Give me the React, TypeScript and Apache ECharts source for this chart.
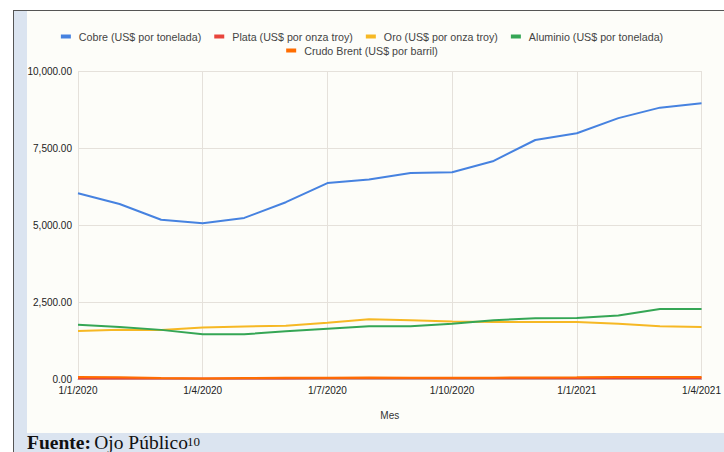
import React, { useEffect, useRef } from "react";
import * as echarts from "echarts";

// Monthly metal and oil prices, Jan 2020 – Apr 2021
const months = [
  "1/1/2020", "1/2/2020", "1/3/2020", "1/4/2020", "1/5/2020", "1/6/2020",
  "1/7/2020", "1/8/2020", "1/9/2020", "1/10/2020", "1/11/2020", "1/12/2020",
  "1/1/2021", "1/2/2021", "1/3/2021", "1/4/2021",
];

const cobre = [6030, 5680, 5170, 5060, 5230, 5740, 6360, 6480, 6690, 6710, 7080, 7760, 7980, 8470, 8810, 8950];
const plata = [18.0, 17.9, 14.9, 15.0, 16.2, 17.7, 20.6, 26.9, 26.2, 24.3, 24.2, 24.7, 25.9, 27.3, 25.6, 25.0];
const oro = [1560, 1595, 1590, 1675, 1705, 1725, 1830, 1940, 1905, 1870, 1850, 1848, 1852, 1790, 1715, 1690];
const aluminio = [1765, 1685, 1595, 1450, 1452, 1550, 1630, 1710, 1715, 1790, 1905, 1975, 1980, 2060, 2270, 2270];
const brent = [63.6, 55.5, 32.0, 18.4, 29.4, 40.3, 43.2, 44.7, 41.0, 40.2, 42.7, 49.9, 54.8, 62.3, 65.4, 64.8];

const seriesNames = [
  "Cobre (US$ por tonelada)",
  "Plata (US$ por onza troy)",
  "Oro (US$ por onza troy)",
  "Aluminio (US$ por tonelada)",
  "Crudo Brent (US$ por barril)",
];
const seriesColors = ["#4682e0", "#e8453c", "#f6b824", "#35a655", "#ff6d01"];
const seriesData = [cobre, plata, oro, aluminio, brent];

const yTicks = { min: 0, max: 10000, interval: 2500 };

const FONT = "'Liberation Sans', Arial, sans-serif";
const SERIF = "'Liberation Serif', 'Times New Roman', serif";
const GRID = "#e5e1db";
const BAND = "#dbe4f0";

function fmt(v: number): string {
  const [i, d] = v.toFixed(2).split(".");
  return i.replace(/\B(?=(\d{3})+(?!\d))/g, ",") + "." + d;
}

export default function App() {
  const ref = useRef<HTMLDivElement>(null);

  useEffect(() => {
    if (!ref.current) return;
    const chart = echarts.init(ref.current, undefined, { renderer: "svg" });
    const legendText = { fontFamily: FONT, fontSize: 10.7, color: "#444", padding: [0, 0, 0, 3] };
    chart.setOption({
      animation: false,
      backgroundColor: "transparent",
      legend: [
        {
          data: seriesNames.slice(0, 4),
          top: 26,
          left: "center",
          icon: "rect",
          itemWidth: 10,
          itemHeight: 4,
          itemGap: 13,
          textStyle: legendText,
        },
        {
          data: seriesNames.slice(4),
          top: 40,
          left: "center",
          icon: "rect",
          itemWidth: 10,
          itemHeight: 4,
          textStyle: legendText,
        },
      ],
      grid: { left: 78, right: 20, top: 71, bottom: 73, containLabel: false },
      xAxis: {
        type: "category",
        data: months,
        boundaryGap: false,
        name: "Mes",
        nameLocation: "middle",
        nameGap: 31,
        nameTextStyle: { fontFamily: FONT, fontSize: 10, color: "#333" },
        axisLine: { show: true, lineStyle: { color: "#bbb" } },
        axisTick: { show: false },
        axisLabel: { interval: 2, margin: 6, fontFamily: FONT, fontSize: 10, color: "#222" },
        splitLine: { show: true, interval: 2, lineStyle: { color: GRID, width: 1 } },
      },
      yAxis: {
        type: "value",
        min: yTicks.min,
        max: yTicks.max,
        interval: yTicks.interval,
        axisLine: { show: false },
        axisTick: { show: false },
        axisLabel: { margin: 6, fontFamily: FONT, fontSize: 10, color: "#222", formatter: (v: number) => fmt(v) },
        splitLine: { lineStyle: { color: GRID, width: 1 } },
      },
      series: seriesNames.map((name, i) => ({
        name,
        type: "line",
        data: seriesData[i],
        showSymbol: false,
        symbol: "none",
        color: seriesColors[i],
        lineStyle: { width: 2, color: seriesColors[i] },
      })),
      graphic: [
        {
          type: "text",
          x: 27,
          y: 442,
          z: 100,
          style: {
            text: "{b|Fuente:} {n|Ojo Público}",
            verticalAlign: "middle",
            fill: "#111",
            rich: {
              b: { fontFamily: SERIF, fontSize: 19.5, lineHeight: 19, fontWeight: "bold", fill: "#111" },
              n: { fontFamily: SERIF, fontSize: 19.5, lineHeight: 19, fill: "#111" },
            },
          },
        },
        {
          type: "text",
          x: 187,
          y: 441,
          z: 100,
          style: { text: "10", fontFamily: SERIF, fontSize: 13, fill: "#111", verticalAlign: "middle" },
        },
      ],
    });
    return () => chart.dispose();
  }, []);

  const box = (s: React.CSSProperties): React.CSSProperties => ({ position: "absolute", ...s });

  return (
    <div style={{ position: "fixed", left: 0, top: 0, width: 724, height: 452, background: "#ffffff", overflow: "hidden" }}>
      <div style={box({ left: 14, top: 11, width: 13, height: 441, background: BAND })} />
      <div style={box({ left: 14, top: 433, width: 710, height: 19, background: BAND })} />
      <div style={box({ left: 27, top: 11, width: 697, height: 422, background: "#fdfdf9" })} />
      <div style={box({ left: 13, top: 10, width: 711, height: 1, background: "#555" })} />
      <div style={box({ left: 13, top: 10, width: 1, height: 442, background: "#555" })} />
      <div ref={ref} style={box({ left: 0, top: 0, width: 724, height: 452 })} />
    </div>
  );
}
